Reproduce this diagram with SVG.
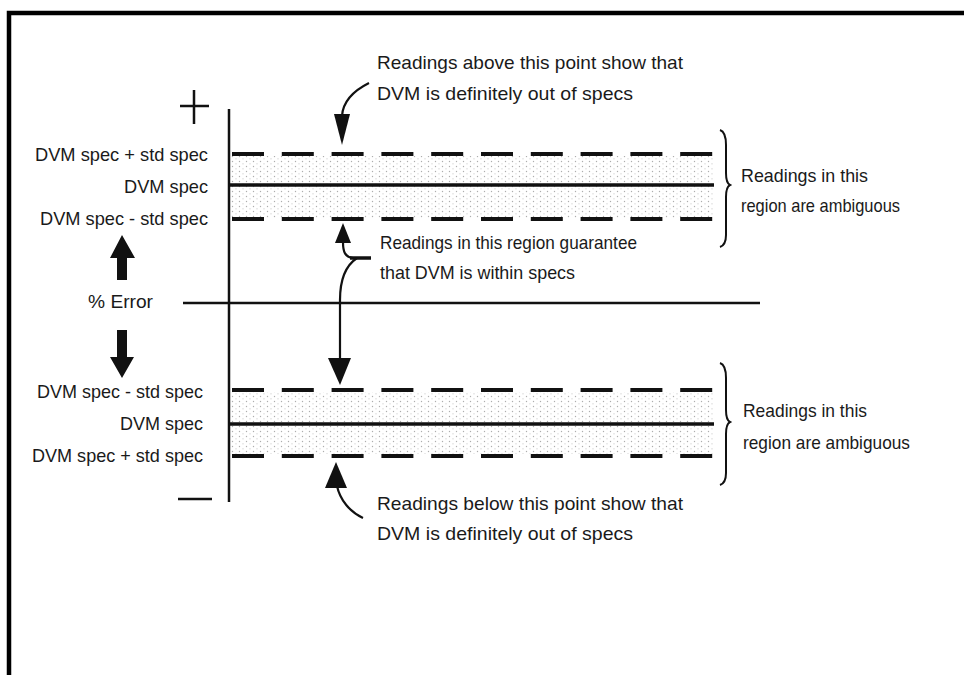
<svg xmlns="http://www.w3.org/2000/svg" width="964" height="675" viewBox="0 0 964 675">
  <style>
    text { font-family: "Liberation Sans Narrow", "Liberation Sans", Arial, sans-serif; font-size: 19px; fill: #1a1a1a; }
    .end { text-anchor: end; }
    .axis { stroke: #111; stroke-width: 2.5; fill: none; }
    .dash { stroke: #111; stroke-width: 4; stroke-dasharray: 32 17.8; fill: none; }
    .mid { stroke: #111; stroke-width: 3.5; fill: none; }
    .curve { stroke: #111; stroke-width: 2.2; fill: none; }
    .brace { stroke: #111; stroke-width: 2; fill: none; }
    .solid { fill: #111; }
  </style>
  <defs>
    <pattern id="dots" width="7" height="5" patternUnits="userSpaceOnUse">
      <circle cx="1.5" cy="1.5" r="0.7" fill="#8a8a8a"/>
      <circle cx="5" cy="3.8" r="0.6" fill="#a5a5a5"/>
    </pattern>
  </defs>

  <rect width="964" height="675" fill="#fff"/>

  <!-- outer frame -->
  <path d="M9,675 V13 H964" fill="none" stroke="#000" stroke-width="4.5"/>

  <!-- axis -->
  <g id="axis">
    <line class="axis" x1="229" y1="109" x2="229" y2="502"/>
    <line class="axis" x1="183" y1="303" x2="760" y2="303" stroke-width="3"/>
    <path class="axis" d="M194,90 V124 M180,106 H209" stroke-width="3.5"/>
    <line class="axis" x1="178" y1="499" x2="212" y2="499" stroke-width="3"/>
    <text x="88" y="308" textLength="65" lengthAdjust="spacingAndGlyphs">% Error</text>
    <polygon class="solid" points="122,235 135,258 127,258 127,280 117,280 117,258 110,258"/>
    <polygon class="solid" points="117,330 127,330 127,357 134,357 122,378 110,357 117,357"/>
  </g>

  <!-- upper tolerance band -->
  <g id="upper-band">
    <rect x="231" y="156" width="482" height="62" fill="url(#dots)" opacity="0.7"/>
    <line class="dash" x1="232" y1="154" x2="714" y2="154"/>
    <line class="mid" x1="229" y1="185" x2="714" y2="185"/>
    <line class="dash" x1="232" y1="219" x2="714" y2="219"/>
    <text class="end" x="208" y="161" textLength="173" lengthAdjust="spacingAndGlyphs">DVM spec + std spec</text>
    <text class="end" x="208" y="193" textLength="84" lengthAdjust="spacingAndGlyphs">DVM spec</text>
    <text class="end" x="208" y="225" textLength="168" lengthAdjust="spacingAndGlyphs">DVM spec - std spec</text>
    <path class="brace" d="M720,130 Q726,132 726,145 L726,173 Q726,183 730,185 Q726,187 726,197 L726,235 Q726,245 720,247"/>
    <text x="741" y="182" textLength="127" lengthAdjust="spacingAndGlyphs">Readings in this</text>
    <text x="741" y="212" textLength="159" lengthAdjust="spacingAndGlyphs">region are ambiguous</text>
  </g>

  <!-- lower tolerance band -->
  <g id="lower-band">
    <rect x="231" y="392" width="482" height="62" fill="url(#dots)" opacity="0.7"/>
    <line class="dash" x1="232" y1="390" x2="714" y2="390"/>
    <line class="mid" x1="229" y1="424" x2="714" y2="424"/>
    <line class="dash" x1="232" y1="456" x2="714" y2="456"/>
    <text class="end" x="203" y="398" textLength="166" lengthAdjust="spacingAndGlyphs">DVM spec - std spec</text>
    <text class="end" x="203" y="430" textLength="83" lengthAdjust="spacingAndGlyphs">DVM spec</text>
    <text class="end" x="203" y="462" textLength="171" lengthAdjust="spacingAndGlyphs">DVM spec + std spec</text>
    <path class="brace" d="M720,363 Q726,365 726,378 L726,410 Q726,420 730,422 Q726,424 726,434 L726,473 Q726,483 720,485"/>
    <text x="743" y="417" textLength="124" lengthAdjust="spacingAndGlyphs">Readings in this</text>
    <text x="743" y="449" textLength="167" lengthAdjust="spacingAndGlyphs">region are ambiguous</text>
  </g>

  <!-- annotation notes -->
  <g id="note-above">
    <text x="377" y="69" textLength="306" lengthAdjust="spacingAndGlyphs">Readings above this point show that</text>
    <text x="377" y="100" textLength="256" lengthAdjust="spacingAndGlyphs">DVM is definitely out of specs</text>
  </g>
  <g id="note-within">
    <text x="380" y="249" textLength="257" lengthAdjust="spacingAndGlyphs">Readings in this region guarantee</text>
    <text x="380" y="279" textLength="195" lengthAdjust="spacingAndGlyphs">that DVM is within specs</text>
  </g>
  <g id="note-below">
    <text x="377" y="510" textLength="306" lengthAdjust="spacingAndGlyphs">Readings below this point show that</text>
    <text x="377" y="540" textLength="256" lengthAdjust="spacingAndGlyphs">DVM is definitely out of specs</text>
  </g>

  <!-- pointer arrows -->
  <g id="connectors">
    <path class="curve" d="M369,83 C355,90 343,100 342,116"/>
    <polygon class="solid" points="334,114 350,114 342,145"/>

    <polygon class="solid" points="343,223 351,243 335,243"/>
    <path class="curve" d="M343,242 C343,252 345,257 353,258"/>
    <line x1="350" y1="258" x2="371" y2="258" stroke="#111" stroke-width="3.5"/>
    <path class="curve" d="M357,258 C345,266 340,282 340,300 L340,360"/>
    <polygon class="solid" points="328,358 351,358 340,385"/>

    <polygon class="solid" points="336,462 347,488 325,488"/>
    <path class="curve" d="M337,486 C340,500 350,512 363,518"/>
  </g>
</svg>
